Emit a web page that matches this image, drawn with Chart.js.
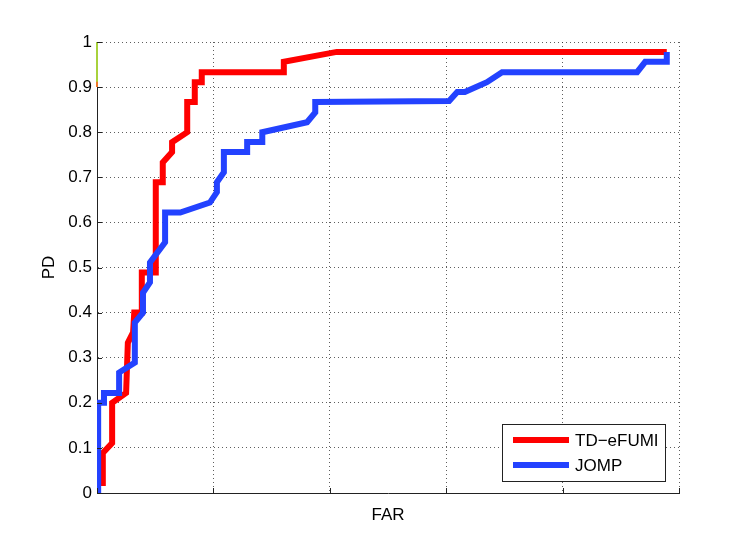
<!DOCTYPE html>
<html>
<head>
<meta charset="utf-8">
<script src="https://cdn.jsdelivr.net/npm/chart.js@4.4.1/dist/chart.umd.min.js"></script>
<style>
  html, body { margin: 0; padding: 0; background: #fff; }
  #wrap { width: 747px; height: 555px; position: relative; }
</style>
</head>
<body>
<div id="wrap"><canvas id="c" width="747" height="555"></canvas></div>
<script>
// ---- data ----
const seriesNames = ['TD\u2212eFUMI', 'JOMP'];

const tdEfumiFAR = [0.003, 0.010, 0.010, 0.026, 0.026, 0.050, 0.053, 0.062, 0.064, 0.077, 0.077, 0.101, 0.101, 0.113, 0.113, 0.129, 0.129, 0.155, 0.155, 0.168, 0.168, 0.180, 0.180, 0.321, 0.321, 0.412, 0.979];
const tdEfumiPD  = [0.022, 0.022, 0.089, 0.111, 0.200, 0.222, 0.333, 0.356, 0.400, 0.400, 0.489, 0.489, 0.689, 0.689, 0.733, 0.756, 0.778, 0.800, 0.867, 0.867, 0.911, 0.911, 0.933, 0.933, 0.956, 0.978, 0.978];

const jompFAR = [0.002, 0.002, 0.012, 0.012, 0.038, 0.038, 0.065, 0.065, 0.079, 0.079, 0.091, 0.091, 0.117, 0.117, 0.143, 0.194, 0.206, 0.206, 0.218, 0.218, 0.258, 0.258, 0.284, 0.284, 0.361, 0.375, 0.375, 0.605, 0.619, 0.632, 0.670, 0.696, 0.928, 0.942, 0.979, 0.979];
const jompPD  = [0.000, 0.200, 0.200, 0.222, 0.222, 0.267, 0.289, 0.378, 0.400, 0.444, 0.467, 0.511, 0.556, 0.622, 0.622, 0.644, 0.667, 0.689, 0.711, 0.756, 0.756, 0.778, 0.778, 0.800, 0.822, 0.844, 0.867, 0.869, 0.889, 0.889, 0.911, 0.933, 0.933, 0.956, 0.956, 0.978];

// small coloured stubs on the left edge near the top
const stubGreenFAR = [0, 0];
const stubGreenPD  = [0.912, 1.0];
const stubOrangeFAR = [0, 0];
const stubOrangePD  = [0.90, 0.914];

const yTickLabels = ['0', '0.1', '0.2', '0.3', '0.4', '0.5', '0.6', '0.7', '0.8', '0.9', '1'];
const xTickLabels = ['', '', '', '', '', ''];
const axisTitles = { x: 'FAR', y: 'PD' };

const seriesColors = ['#ff0000', '#2342ff'];

function pts(xs, ys) { return xs.map((x, i) => ({ x: x, y: ys[i] })); }

const FONT = "'Liberation Sans', Arial, Helvetica, sans-serif";

const insideTicks = {
  id: 'insideTicks',
  afterDatasetsDraw(chart) {
    const ctx = chart.ctx;
    const xs = chart.scales.x, ys = chart.scales.y;
    const a = chart.chartArea;
    ctx.save();
    ctx.strokeStyle = '#222';
    ctx.lineWidth = 1;
    ctx.beginPath();
    ys.ticks.forEach(t => {
      const py = Math.round(ys.getPixelForValue(t.value)) + 0.5;
      ctx.moveTo(a.left, py); ctx.lineTo(a.left + 5, py);
    });
    xs.ticks.forEach(t => {
      const px = Math.round(xs.getPixelForValue(t.value)) + 0.5;
      ctx.moveTo(px, a.bottom); ctx.lineTo(px, a.bottom - 5);
    });
    ctx.stroke();
    ctx.restore();
  }
};

const boxLegend = {
  id: 'boxLegend',
  afterDraw(chart) {
    const ctx = chart.ctx;
    const a = chart.chartArea;
    const w = 163, h = 57;
    const x0 = a.right - 14 - w, y0 = a.bottom - 12 - h;
    ctx.save();
    ctx.fillStyle = '#fff';
    ctx.fillRect(x0, y0, w, h);
    ctx.strokeStyle = '#222';
    ctx.lineWidth = 1;
    ctx.strokeRect(Math.round(x0) + 0.5, Math.round(y0) + 0.5, w, h);
    const items = chart.data.datasets.filter(d => d.showInLegend);
    items.forEach((d, i) => {
      const cy = y0 + 16 + i * 25;
      ctx.strokeStyle = d.borderColor;
      ctx.lineWidth = 6;
      ctx.beginPath();
      ctx.moveTo(x0 + 11, cy); ctx.lineTo(x0 + 67, cy);
      ctx.stroke();
      ctx.fillStyle = '#000';
      ctx.font = '17px ' + FONT;
      ctx.textBaseline = 'middle';
      ctx.textAlign = 'left';
      ctx.fillText(d.label, x0 + 73, cy + 1);
    });
    ctx.restore();
  }
};

new Chart(document.getElementById('c'), {
  type: 'line',
  data: {
    datasets: [
      { label: seriesNames[0], data: pts(tdEfumiFAR, tdEfumiPD), borderColor: seriesColors[0], backgroundColor: seriesColors[0], borderWidth: 6, pointRadius: 0, tension: 0, order: 2, showInLegend: true, borderJoinStyle: 'miter', borderCapStyle: 'butt' },
      { label: seriesNames[1], data: pts(jompFAR, jompPD), borderColor: seriesColors[1], backgroundColor: seriesColors[1], borderWidth: 6, pointRadius: 0, tension: 0, order: 1, showInLegend: true, borderJoinStyle: 'miter', borderCapStyle: 'butt' },
      { label: 'g', data: pts(stubGreenFAR, stubGreenPD), borderColor: '#a8d23c', borderWidth: 2, pointRadius: 0, order: 0, clip: false },
      { label: 'o', data: pts(stubOrangeFAR, stubOrangePD), borderColor: '#f07828', borderWidth: 2, pointRadius: 0, order: 0, clip: false }
    ]
  },
  options: {
    responsive: false,
    animation: false,
    devicePixelRatio: 1,
    layout: { padding: { left: 0, top: 42, right: 68, bottom: 0 } },
    plugins: { legend: { display: false }, tooltip: { enabled: false } },
    scales: {
      x: {
        type: 'linear', min: 0, max: 1,
        afterFit: s => { s.height = 62; },
        afterBuildTicks: s => { s.ticks = xTickLabels.map((l, i) => ({ value: i * 0.2 })); },
        ticks: { display: false },
        grid: { color: 'rgba(40,40,40,0.75)', lineWidth: 1, drawTicks: false },
        border: { display: true, color: '#222', width: 1, dash: [1, 3] },
        title: { display: true, text: axisTitles.x, color: '#000', font: { family: FONT, size: 17 }, padding: { top: 0, bottom: 29 } }
      },
      y: {
        type: 'linear', min: 0, max: 1,
        afterFit: s => { s.width = 97; },
        afterBuildTicks: s => { s.ticks = yTickLabels.map((l, i) => ({ value: i / 10 })); },
        ticks: { color: '#000', padding: 5, font: { family: FONT, size: 17 }, callback: (v, i) => yTickLabels[i] },
        grid: { color: 'rgba(40,40,40,0.75)', lineWidth: 1, drawTicks: false },
        border: { display: true, color: '#222', width: 1, dash: [1, 3] },
        title: { display: true, text: axisTitles.y, color: '#000', font: { family: FONT, size: 17 }, padding: { top: 39, bottom: 0 } }
      }
    }
  },
  plugins: [insideTicks, boxLegend]
});
</script>
</body>
</html>
